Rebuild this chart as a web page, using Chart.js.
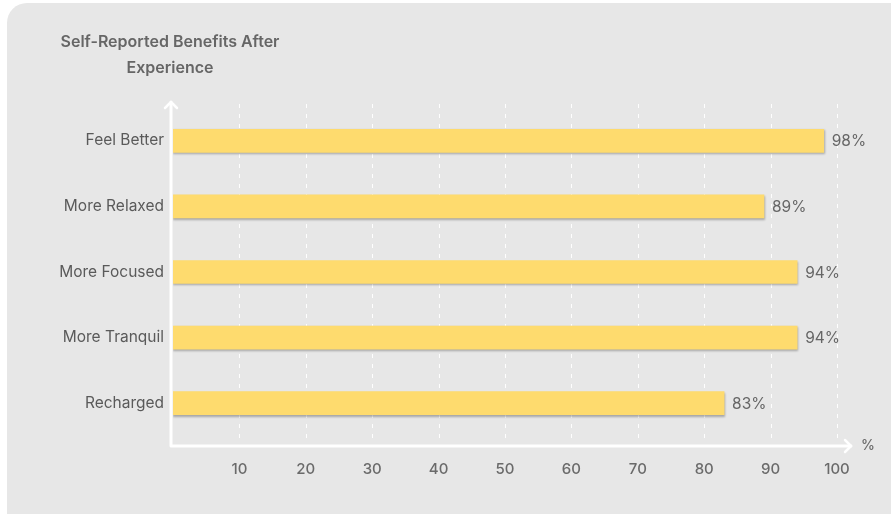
<!DOCTYPE html>
<html>
<head>
<meta charset="utf-8">
<script src="https://cdn.jsdelivr.net/npm/chart.js@4"></script>
<style>
    html, body { margin: 0; padding: 0; background: #fff; }
    #wrap { width: 891px; height: 514px; position: relative; }
</style>
</head>
<body>
<div id="wrap"><canvas id="benefitsChart"></canvas></div>
<script>
// --- DATA ---
const CATEGORIES = ['Feel Better', 'More Relaxed', 'More Focused', 'More Tranquil', 'Recharged'];
const PERCENTAGES = [98, 89, 94, 94, 83];
const X_TICKS = [10, 20, 30, 40, 50, 60, 70, 80, 90, 100];
const TITLE_LINES = ['Self-Reported Benefits After', 'Experience'];

const FONT = 'Inter, "Noto Sans", sans-serif';
const BAR_COLOR = '#fedb6e';

document.addEventListener('DOMContentLoaded', () => {
    // --- PLUGINS ---
    const cardBackground = {
        id: 'cardBackground',
        beforeDraw(chart) {
            const { ctx } = chart;
            ctx.save();
            ctx.fillStyle = '#e7e7e7';
            ctx.beginPath();
            ctx.roundRect(7, 3, 910, 540, 20);
            ctx.fill();
            ctx.restore();
        }
    };

    // dashed verticals + white arrow axes, drawn past the chart area like the design
    const axesAndGrid = {
        id: 'axesAndGrid',
        beforeDatasetsDraw(chart) {
            const { ctx, scales: { x }, chartArea } = chart;
            const top = chartArea.top - 4, bottom = chartArea.bottom + 8;
            ctx.save();
            ctx.strokeStyle = 'rgba(255,255,255,0.95)';
            ctx.lineWidth = 1;
            ctx.setLineDash([4, 6]);
            X_TICKS.forEach(v => {
                const px = Math.round(x.getPixelForValue(v)) + 0.5;
                ctx.beginPath();
                ctx.moveTo(px, top);
                ctx.lineTo(px, bottom);
                ctx.stroke();
            });
            ctx.setLineDash([]);

            const x0 = x.getPixelForValue(0) - 2;
            const xEnd = x.getPixelForValue(100) + 14;
            ctx.strokeStyle = '#fff';
            ctx.lineWidth = 3;
            ctx.lineCap = 'round';
            ctx.lineJoin = 'round';
            ctx.beginPath();
            ctx.moveTo(x0, top - 2);
            ctx.lineTo(x0, bottom + 2);
            ctx.lineTo(xEnd, bottom + 2);
            ctx.stroke();
            // arrow heads
            ctx.lineWidth = 2.5;
            ctx.beginPath();
            ctx.moveTo(x0 - 6, top + 4);
            ctx.lineTo(x0, top - 2);
            ctx.lineTo(x0 + 6, top + 4);
            ctx.moveTo(xEnd - 6, bottom - 4);
            ctx.lineTo(xEnd, bottom + 2);
            ctx.lineTo(xEnd - 6, bottom + 8);
            ctx.stroke();

            ctx.fillStyle = '#6a6a6a';
            ctx.font = `500 14px ${FONT}`;
            ctx.textAlign = 'left';
            ctx.textBaseline = 'middle';
            ctx.fillText('%', xEnd + 10, bottom + 2);
            ctx.restore();
        }
    };

    const barShadow = {
        id: 'barShadow',
        beforeDatasetDraw(chart) {
            const { ctx } = chart;
            ctx.save();
            ctx.shadowColor = 'rgba(0,0,0,0.28)';
            ctx.shadowBlur = 2;
            ctx.shadowOffsetY = 1.5;
            ctx.shadowOffsetX = 0.5;
        },
        afterDatasetDraw(chart) {
            chart.ctx.restore();
        }
    };

    const valueLabels = {
        id: 'valueLabels',
        afterDatasetsDraw(chart) {
            const { ctx } = chart;
            const meta = chart.getDatasetMeta(0);
            ctx.save();
            ctx.fillStyle = '#666666';
            ctx.font = `15.5px ${FONT}`;
            ctx.textAlign = 'left';
            ctx.textBaseline = 'middle';
            meta.data.forEach((bar, i) => {
                ctx.fillText(`${PERCENTAGES[i]}%`, bar.x + 8, bar.y + 1);
            });
            ctx.restore();
        }
    };

    const titleBlock = {
        id: 'titleBlock',
        afterDraw(chart) {
            const { ctx } = chart;
            ctx.save();
            ctx.fillStyle = '#666666';
            ctx.font = `600 16px ${FONT}`;
            ctx.textAlign = 'center';
            ctx.textBaseline = 'middle';
            TITLE_LINES.forEach((line, i) => ctx.fillText(line, 170, 42 + i * 26));
            ctx.restore();
        }
    };

    // --- CHART ---
    const ctx = document.getElementById('benefitsChart').getContext('2d');
    new Chart(ctx, {
        type: 'bar',
        data: {
            labels: CATEGORIES,
            datasets: [{
                data: PERCENTAGES,
                backgroundColor: BAR_COLOR,
                borderWidth: 0,
                barThickness: 23
            }]
        },
        options: {
            indexAxis: 'y',
            responsive: true,
            maintainAspectRatio: false,
            animation: false,
            layout: { padding: { top: 108, right: 54, bottom: 0, left: 0 } },
            plugins: {
                legend: { display: false },
                title: { display: false },
                tooltip: { enabled: false }
            },
            scales: {
                x: {
                    min: 0,
                    max: 100,
                    afterBuildTicks: (scale) => { scale.ticks = [0, ...X_TICKS].map(v => ({ value: v })); },
                    afterFit: (scale) => { scale.height = 78; },
                    grid: { display: false, drawTicks: false },
                    border: { display: false },
                    ticks: {
                        padding: 24,
                        color: '#6a6a6a',
                        font: { family: FONT, size: 15, weight: 500 },
                        maxRotation: 0,
                        callback: (value) => value === 0 ? '' : value
                    }
                },
                y: {
                    afterFit: (scale) => { scale.width = 173; },
                    grid: { display: false, drawTicks: false },
                    border: { display: false },
                    ticks: {
                        padding: 9,
                        color: '#5a5a5a',
                        font: { family: FONT, size: 15.5 }
                    }
                }
            }
        },
        plugins: [cardBackground, axesAndGrid, barShadow, valueLabels, titleBlock]
    });
});
</script>
</body>
</html>
